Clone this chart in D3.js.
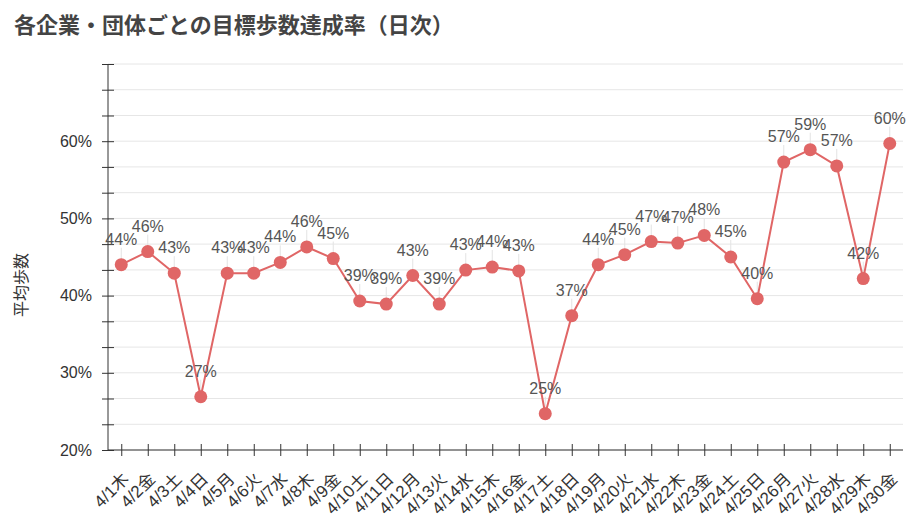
<!DOCTYPE html>
<html>
<head>
<meta charset="utf-8">
<script src="https://cdn.jsdelivr.net/npm/d3@7/dist/d3.min.js"></script>
<style>
  html, body { margin: 0; padding: 0; background: #fff; }
  svg { display: block; font-family: "Liberation Sans", Arial, "Noto Sans CJK JP", sans-serif; }
</style>
</head>
<body>
<svg id="chart" width="922" height="526"></svg>
<script>
const title = "各企業・団体ごとの目標歩数達成率（日次）";
const yAxisTitle = "平均歩数";
const categories = ["4/1木","4/2金","4/3土","4/4日","4/5月","4/6火","4/7水","4/8木","4/9金","4/10土",
  "4/11日","4/12月","4/13火","4/14水","4/15木","4/16金","4/17土","4/18日","4/19月","4/20火",
  "4/21水","4/22木","4/23金","4/24土","4/25日","4/26月","4/27火","4/28水","4/29木","4/30金"];
const rates = [0.440, 0.457, 0.429, 0.269, 0.429, 0.429, 0.443, 0.463, 0.448, 0.393,
  0.389, 0.426, 0.389, 0.433, 0.437, 0.432, 0.247, 0.374, 0.440, 0.453,
  0.470, 0.468, 0.478, 0.450, 0.396, 0.573, 0.589, 0.568, 0.422, 0.597];
const yTicks = [0.2, 0.2333, 0.2667, 0.3, 0.3333, 0.3667, 0.4, 0.4333, 0.4667, 0.5, 0.5333, 0.5667, 0.6, 0.6333, 0.6667, 0.7];
const yLabelTicks = [0.2, 0.3, 0.4, 0.5, 0.6];

const svg = d3.select("#chart");
const mLeft = 108, mRight = 903, mTop = 64, mBottom = 450;

const x = d3.scalePoint().domain(categories).range([mLeft, mRight]).padding(0.5);
const y = d3.scaleLinear().domain([0.2, 0.7]).range([mBottom, mTop]);

// title
svg.append("text").attr("x", 14).attr("y", 33)
  .attr("font-size", 22).attr("font-weight", "bold").attr("fill", "#444")
  .style("font-family", "'Noto Sans CJK JP', sans-serif")
  .text(title);

// grid
svg.append("g").selectAll("line").data(yTicks).join("line")
  .attr("x1", mLeft).attr("x2", mRight)
  .attr("y1", d => y(d)).attr("y2", d => y(d))
  .attr("stroke", "#e6e6e6").attr("stroke-width", 1);

// y axis
const yAxis = svg.append("g").attr("transform", `translate(${mLeft},0)`)
  .call(d3.axisLeft(y).tickValues(yTicks).tickSize(6).tickFormat(d => yLabelTicks.some(t => Math.abs(t - d) < 1e-6) ? d3.format(".0%")(d) : ""));
yAxis.select(".domain").attr("stroke", "#333").attr("d", `M0,${mBottom}V${mTop}`);
yAxis.selectAll(".tick line").attr("stroke", "#333").attr("x1", 6).attr("x2", -6);
yAxis.selectAll(".tick text").attr("font-size", 16).attr("fill", "#333")
  .attr("x", -16).style("font-family", "'Liberation Sans', Arial, sans-serif");

// y axis title
svg.append("text")
  .attr("transform", `translate(27,285) rotate(-90)`)
  .attr("text-anchor", "middle").attr("font-size", 16).attr("fill", "#333")
  .style("font-family", "'Noto Sans CJK JP', sans-serif")
  .text(yAxisTitle);

// x axis
const xAxis = svg.append("g").attr("transform", `translate(0,${mBottom})`)
  .call(d3.axisBottom(x).tickSize(6).tickSizeOuter(0));
xAxis.select(".domain").attr("stroke", "#333").attr("d", `M${mLeft},0H${mRight}`);
xAxis.selectAll(".tick line").attr("stroke", "#333").attr("y1", -6).attr("y2", 6);
xAxis.selectAll(".tick text")
  .attr("font-size", 17).attr("fill", "#333")
  .attr("text-anchor", "end")
  .attr("dy", null).attr("y", null)
  .attr("transform", "translate(8,30) rotate(-45)")
  .style("font-family", "'Liberation Sans', Arial, 'Noto Sans CJK JP', sans-serif");

// leader lines
svg.append("g").selectAll("line").data(rates).join("line")
  .attr("x1", (d, i) => x(categories[i])).attr("x2", (d, i) => x(categories[i]))
  .attr("y1", d => y(d) - 17).attr("y2", d => y(d))
  .attr("stroke", "#e3e3e3").attr("stroke-width", 1);

// line
const line = d3.line().x((d, i) => x(categories[i])).y(d => y(d));
svg.append("path").datum(rates).attr("d", line)
  .attr("fill", "none").attr("stroke", "#e06666").attr("stroke-width", 2);

// points
svg.append("g").selectAll("circle").data(rates).join("circle")
  .attr("cx", (d, i) => x(categories[i])).attr("cy", d => y(d))
  .attr("r", 6.5).attr("fill", "#e06666");

// labels
svg.append("g").selectAll("text").data(rates).join("text")
  .attr("x", (d, i) => x(categories[i])).attr("y", d => y(d) - 20)
  .attr("text-anchor", "middle").attr("font-size", 16).attr("fill", "#555")
  .style("font-family", "'Liberation Sans', Arial, sans-serif")
  .text(d => Math.round(d * 100) + "%");
</script>
</body>
</html>
